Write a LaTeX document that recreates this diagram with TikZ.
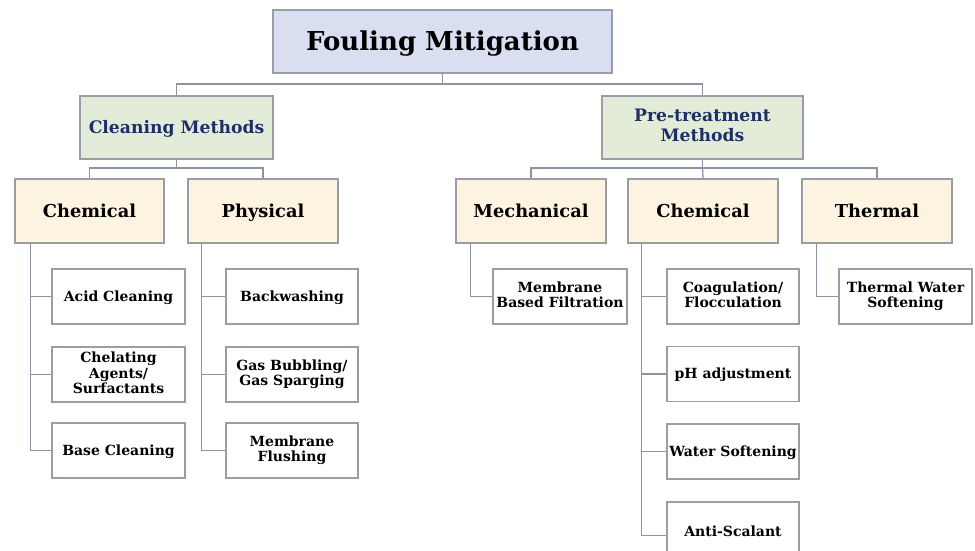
\documentclass[tikz,border=0pt]{standalone}
\usepackage{fontspec}
\setmainfont{DejaVu Serif}
\usetikzlibrary{calc}
\newcommand{\mystrut}{\rule[-0.26em]{0pt}{1.22em}}
\definecolor{bordc}{HTML}{9A9CA6}
\definecolor{linec}{HTML}{8E93A3}
\definecolor{titlef}{HTML}{D9DFF1}
\definecolor{greenf}{HTML}{E2ECD8}
\definecolor{beigef}{HTML}{FDF3E1}
\definecolor{navyt}{HTML}{1E2F66}
\tikzset{
  boxbase/.style={draw=bordc, line width=1.2pt, inner sep=0pt, align=center, text=black,
    execute at begin node=\mystrut, execute at end node=\mystrut},
  titlebox/.style={boxbase, fill=titlef, minimum width=339pt, minimum height=63pt, font=\bfseries\fontsize{26}{30}\selectfont},
  catbox/.style={boxbase, fill=greenf, minimum height=63pt, text=navyt, font=\bfseries\fontsize{17.2}{20}\selectfont},
  subbox/.style={boxbase, fill=beigef, minimum width=150pt, minimum height=64pt, font=\bfseries\fontsize{17.8}{21}\selectfont},
  leafbox/.style={boxbase, fill=white, minimum width=133pt, minimum height=55pt, font=\bfseries\fontsize{14}{15.5}\selectfont},
  conn/.style={draw=linec, line width=1.3pt}
}
\begin{document}
\begin{tikzpicture}[x=1pt,y=-1pt]
\clip (0,0) rectangle (975,551);
\fill[white] (0,0) rectangle (975,551);
% top
\node[titlebox] (title) at (442.5,41.5) {Fouling Mitigation};
\node[catbox, minimum width=193pt] (clean) at (176.5,127.5) {Cleaning Methods};
\node[catbox, minimum width=201pt] (pre) at (702.5,127.5) {Pre-treatment\\Methods};
% second level
\node[subbox, minimum width=149pt] (chemA) at (89.5,211) {Chemical};
\node[subbox] (phys) at (263,211) {Physical};
\node[subbox] (mech) at (531,211) {Mechanical};
\node[subbox] (chemB) at (703,211) {Chemical};
\node[subbox] (therm) at (877,211) {Thermal};
% leaves
\node[leafbox] (acid) at (118.5,296.5) {Acid Cleaning};
\node[leafbox] (chel) at (118.5,374.5) {Chelating\\Agents/\\Surfactants};
\node[leafbox] (base) at (118.5,450.5) {Base Cleaning};
\node[leafbox, minimum width=132pt] (back) at (292,296.5) {Backwashing};
\node[leafbox, minimum width=132pt] (gas) at (292,374.5) {Gas Bubbling/\\Gas Sparging};
\node[leafbox, minimum width=132pt] (flush) at (292,450.5) {Membrane\\Flushing};
\node[leafbox, minimum width=134pt] (memb) at (560,296.5) {Membrane\\Based Filtration};
\node[leafbox, minimum width=132pt] (coag) at (733,296.5) {Coagulation/\\Flocculation};
\node[leafbox, minimum width=132pt] (ph) at (733,374) {pH adjustment};
\node[leafbox, minimum width=132pt] (ws) at (733,451.5) {Water Softening};
\node[leafbox, minimum width=132pt, minimum height=60pt] (anti) at (733,532) {Anti-Scalant};
\node[leafbox] (tws) at (905.5,296.5) {Thermal Water\\Softening};
% junctions
\coordinate (j0) at (442.5,84);
\coordinate (j1) at (176.5,168);
\coordinate (j2) at (702.5,168);
% connectors
\draw[conn] (title.south) -- (j0) -| (clean.north);
\draw[conn] (j0) -| (pre.north);
\draw[conn] (clean.south) -- (j1) -| (chemA.north);
\draw[conn] (j1) -| (phys.north);
\draw[conn] (pre.south) -- (j2) -| (mech.north);
\draw[conn] (j2) -| (therm.north);
\draw[conn] (j2) -- (chemB.north);
\foreach \l in {acid,chel,base}{\draw[conn] ([xshift=16pt]chemA.south west) |- (\l.west);}
\foreach \l in {back,gas,flush}{\draw[conn] ([xshift=14pt]phys.south west) |- (\l.west);}
\draw[conn] ([xshift=15pt]mech.south west) |- (memb.west);
\foreach \l in {coag,ph,ws}{\draw[conn] ([xshift=14pt]chemB.south west) |- (\l.west);}
\draw[conn] ([xshift=14pt]chemB.south west) |- ([yshift=-3.5pt]anti.west);
\draw[conn] ([xshift=15pt]therm.south west) |- (tws.west);
\end{tikzpicture}
\end{document}
